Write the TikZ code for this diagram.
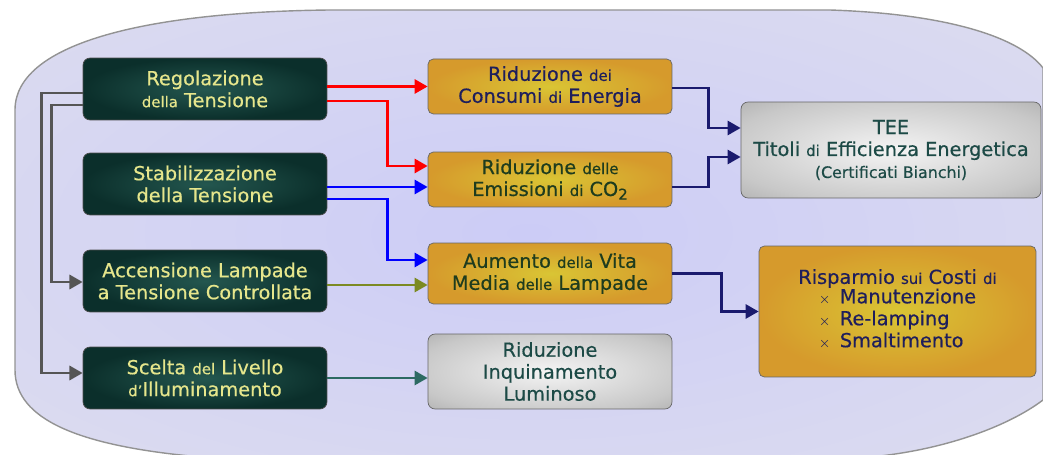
\documentclass[tikz,border=0pt]{standalone}
\usepackage{fontspec}
\setmainfont{DejaVu Sans}[FakeBold=0.5]
\usetikzlibrary{calc}
\usetikzlibrary{positioning}
\usetikzlibrary{arrows.meta}

\definecolor{bgin}{HTML}{CCCCF6}
\definecolor{bgmid}{HTML}{D6D6F2}
\definecolor{bgout}{HTML}{E2E2EC}
\definecolor{grin}{HTML}{24574F}
\definecolor{grout}{HTML}{0B2F2B}
\definecolor{grtext}{HTML}{E6E68C}
\definecolor{orin}{HTML}{D9C534}
\definecolor{orout}{HTML}{D69A2C}
\definecolor{gyin}{HTML}{F4F4F4}
\definecolor{gymid}{HTML}{C8C8C8}
\definecolor{gyout}{HTML}{929292}
\definecolor{navytext}{HTML}{1E1E5C}
\definecolor{greentext}{HTML}{1E3C1E}
\definecolor{tealtext}{HTML}{1C4A46}
\definecolor{navyline}{HTML}{1A1A6E}
\definecolor{oliveline}{HTML}{7C8A22}
\definecolor{tealline}{HTML}{2C6A62}
\definecolor{grayline}{HTML}{555555}

\pgfdeclareradialshading{bgshade}{\pgfpoint{0bp}{0bp}}{color(0bp)=(bgin); color(22bp)=(bgmid); color(50bp)=(bgout)}
\pgfdeclareradialshading{grayshade}{\pgfpoint{0bp}{0bp}}{color(0bp)=(gyin); color(28bp)=(gymid); color(50bp)=(gyout)}

\newcommand{\sm}[1]{{\fontsize{8.5}{12.5}\selectfont #1}}

\begin{document}
\begin{tikzpicture}[x=0.02cm, y=-0.02cm,
  lbox/.style={rectangle, rounded corners=4pt, draw=black!70, inner color=grin, outer color=grout,
    text=grtext, minimum width=4.88cm, minimum height=1.24cm, inner sep=0pt, align=center,
    font=\fontsize{11}{12.5}\selectfont},
  obox/.style={rectangle, rounded corners=3pt, draw=black!60, inner color=orin, outer color=orout,
    minimum width=4.88cm, inner sep=0pt, align=center, font=\fontsize{11}{12.5}\selectfont},
  gbox/.style={rectangle, rounded corners=4pt, draw=black!60, shade, shading=grayshade,
    text=tealtext, inner sep=0pt, align=center, font=\fontsize{11}{12.5}\selectfont},
  con/.style={line width=1.7pt, -{Triangle[length=7.5pt, width=8pt]}}
]
\useasboundingbox (0,0) rectangle (1043,455);

% background frame
\shade[draw=gray!85, line width=0.8pt, shading=bgshade]
  (15,110) .. controls (15,45) and (140,12) .. (330,10) -- (830,10)
  .. controls (950,14) and (1020,38) .. (1043,68) -- (1043,400)
  .. controls (1010,425) and (950,448) .. (880,456) -- (190,456)
  .. controls (80,445) and (15,420) .. (15,370) -- cycle;

% left column
\foreach \n/\y/\t in {reg/89/{Regolazione\\ \sm{della} Tensione},
                      stab/184/{Stabilizzazione\\ della Tensione},
                      acc/281/{Accensione Lampade\\ a Tensione Controllata},
                      scelta/378/{Scelta \sm{del} Livello\\ \sm{d'}Illuminamento}}
  \node[lbox] (\n) at (205,\y) {\t};

% middle column
\node[obox, text=navytext, minimum height=1.1cm] (dei) at (550,86.5) {Riduzione \sm{dei}\\ Consumi \sm{di} Energia};
\node[obox, text=greentext, minimum height=1.1cm] (delle) at (550,179.5) {Riduzione \sm{delle}\\ Emissioni \sm{di} CO\raisebox{-0.35ex}{\sm{2}}};
\node[obox, text=greentext, minimum height=1.22cm] (aum) at (550,273.5) {Aumento \sm{della} Vita\\ Media \sm{delle} Lampade};
\node[gbox, minimum width=4.88cm, minimum height=1.5cm] (inq) at (550,371.5) {Riduzione\\ Inquinamento\\ Luminoso};

% right column
\node[gbox, minimum width=6cm, minimum height=1.92cm] (tee) at (891,150)
  {TEE\\ Titoli \sm{di} Efficienza Energetica\\ {\fontsize{9}{12.5}\selectfont (Certificati Bianchi)}};
\node[obox, text=navytext, minimum width=5.54cm, minimum height=2.62cm] (risp) at (897.5,311.5)
  {Risparmio \sm{sui} Costi \sm{di}\\[-1pt]
   \begin{tabular}{@{}l@{}}
     \sm{$\times$}\, Manutenzione\\
     \sm{$\times$}\, Re-lamping\\
     \sm{$\times$}\, Smaltimento
   \end{tabular}};

% connectors
\draw[con, red] (reg.east |- dei.west) -- (dei.west);
\draw[con, red] ($(reg.east)+(0,12)$) -- ++(60,0) |- ($(delle.west)+(0,-13.5)$);
\coordinate (b1) at ($(delle.west)+(0,7.5)$);
\draw[con, blue] (stab.east |- b1) -- (b1);
\draw[con, blue] ($(stab.east)+(0,15)$) -- ++(60,0) |- ($(aum.west)+(0,-13.5)$);
\coordinate (o1) at ($(aum.west)+(0,11.5)$);
\draw[con, oliveline] (acc.east |- o1) -- (o1);
\draw[con, tealline] (scelta.east) -- (scelta.east -| inq.west);

\draw[con, navyline] ($(dei.east)+(0,1.5)$) -- ++(36,0) |- ($(tee.west)+(0,-22)$);
\draw[con, navyline] ($(delle.east)+(0,7.5)$) -- ++(36,0) |- ($(tee.west)+(0,7)$);
\draw[con, navyline] (aum.east) -- ++(49,0) |- (risp.west);

\draw[con, grayline] ($(reg.west)+(0,4)$) -- ++(-41,0) |- ($(scelta.west)+(0,-5)$);
\draw[con, grayline] ($(reg.west)+(0,16)$) -- ++(-31,0) |- ($(acc.west)+(0,1)$);
\end{tikzpicture}
\end{document}
